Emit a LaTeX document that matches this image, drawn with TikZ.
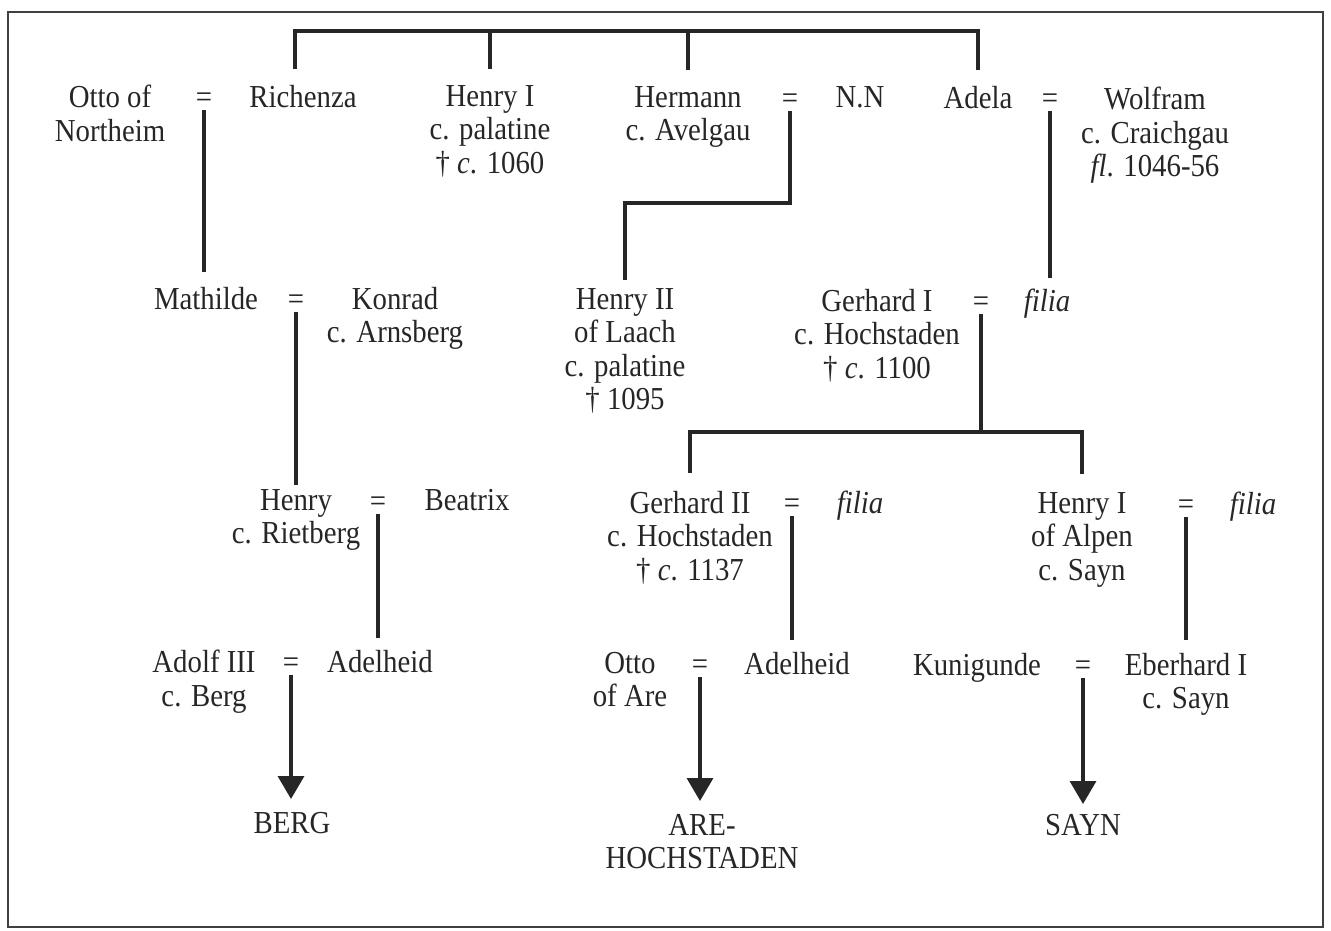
\documentclass[tikz,border=0pt]{standalone}
\usepackage{fontspec}
\setmainfont[FakeStretch=0.9]{Liberation Serif}
\usetikzlibrary{arrows.meta}
\begin{document}
\begin{tikzpicture}[x=1pt,y=-1pt]
\tikzstyle{every node}+=[inner sep=0pt,anchor=north,align=center,text=black!85,font=\fontsize{32}{33.5}\selectfont]
\tikzstyle{eq}=[anchor=base,outer sep=3pt]
\tikzstyle{line}=[line width=3.5pt,draw=black!85]
\tikzstyle{descent}=[line width=3.5pt,draw=black!85,-{Triangle[width=26pt,length=23pt]}]
\useasboundingbox (0,0) rectangle (1331,930);
\draw [line width=2.5pt,black!75] (8,12) rectangle (1323,927);
\node (otto) at (110,85) {Otto of\\Northeim};
\node [eq] (eqa) at (204,107) {=};
\node (rich) at (303,85) {Richenza};
\node (henrya) at (490,85) {Henry I\\c. palatine\\† \textit{c}. 1060};
\node (herm) at (688,86) {Hermann\\c. Avelgau};
\node [eq] (eqb) at (790,108) {=};
\node (nn) at (860,86) {N.N};
\node (adela) at (978,86) {Adela};
\node [eq] (eqc) at (1050,108) {=};
\node (wolf) at (1155,87) {Wolfram\\c. Craichgau\\\textit{fl}. 1046-56};
\node (math) at (206,287) {Mathilde};
\node [eq] (eqd) at (296,309) {=};
\node (konr) at (395,287) {Konrad\\c. Arnsberg};
\node (henryb) at (625,288) {Henry II\\of Laach\\c. palatine\\† 1095};
\node (gerha) at (877,289) {Gerhard I\\c. Hochstaden\\† \textit{c}. 1100};
\node [eq] (eqe) at (981,311) {=};
\node (filiaa) at (1047,289) {\textit{filia}};
\node (henryc) at (296,489) {Henry\\c. Rietberg};
\node [eq] (eqf) at (378,511) {=};
\node (beat) at (467,489) {Beatrix};
\node (gerhb) at (690,491) {Gerhard II\\c. Hochstaden\\† \textit{c}. 1137};
\node [eq] (eqg) at (792,513) {=};
\node (filiab) at (860,491) {\textit{filia}};
\node (henryd) at (1082,492) {Henry I\\of Alpen\\c. Sayn};
\node [eq] (eqh) at (1186,514) {=};
\node (filiac) at (1253,492) {\textit{filia}};
\node (adolf) at (204,650) {Adolf III\\c. Berg};
\node [eq] (eqi) at (291,672) {=};
\node (adelheida) at (380,650) {Adelheid};
\node (ottob) at (630,652) {Otto\\of Are};
\node [eq] (eqj) at (700,674) {=};
\node (adelheidb) at (797,652) {Adelheid};
\node (kuni) at (977,653) {Kunigunde};
\node [eq] (eqk) at (1083,675) {=};
\node (eber) at (1186,653) {Eberhard I\\c. Sayn};
\node (berg) at (292,812) {BERG};
\node (are) at (702,814) {ARE-\\HOCHSTADEN};
\node (sayn) at (1083,814) {SAYN};
\coordinate (topbar) at (637,31);
\coordinate (hbar) at (700,203);
\coordinate (gbar) at (890,432);
\draw [line,shorten <=16pt,shorten >=16pt] ([xshift=-8pt]rich.north) |- (topbar) -| (adela.north);
\draw [line,shorten <=16pt] (henrya.north) -- (henrya.north |- topbar);
\draw [line,shorten <=16pt] (herm.north) -- (herm.north |- topbar);
\draw [line,shorten >=15pt] (eqa.south) -- (eqa.south |- math.north);
\draw [line,shorten >=8pt] (eqb.south) |- (hbar) -| (henryb.north);
\draw [line,shorten >=11pt] (eqc.south) -- (eqc.south |- filiaa.north);
\draw [line,shorten >=4pt] (eqd.south) -- (eqd.south |- henryc.north);
\draw [line] (eqe.south) -- (eqe.south |- gbar);
\draw [line,shorten <=18pt,shorten >=18pt] (gerhb.north) |- (gbar) -| (henryd.north);
\draw [line,shorten >=12pt] (eqf.south) -- (eqf.south |- adelheida.north);
\draw [line,shorten >=12pt] (eqg.south) -- (eqg.south |- adelheidb.north);
\draw [line,shorten >=13pt] (eqh.south) -- (eqh.south |- eber.north);
\draw [descent,shorten >=13pt] (eqi.south) -- (eqi.south |- berg.north);
\draw [descent,shorten >=13pt] (eqj.south) -- (eqj.south |- are.north);
\draw [descent,shorten >=10pt] (eqk.south) -- (eqk.south |- sayn.north);
\end{tikzpicture}
\end{document}
